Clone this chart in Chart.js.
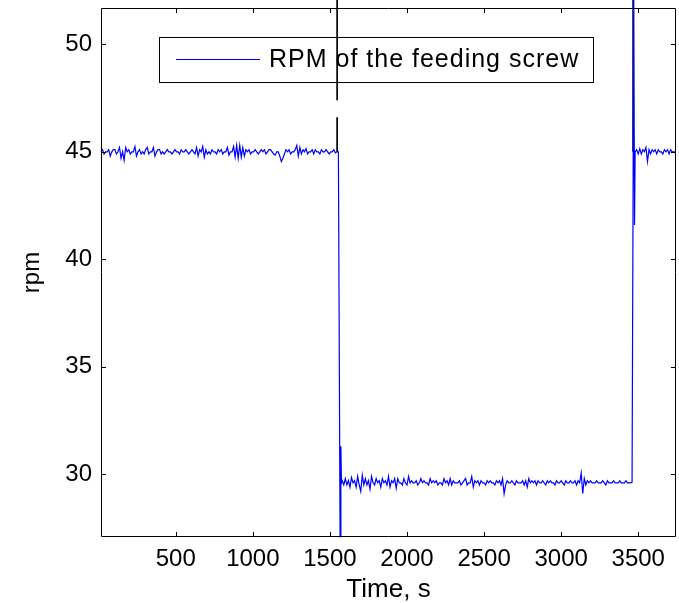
<!DOCTYPE html>
<html>
<head>
<meta charset="utf-8">
<script src="https://cdn.jsdelivr.net/npm/chart.js@4"></script>
<style>
  body { margin: 0; background: #fff; }
  canvas { display: block; }
</style>
</head>
<body>
<canvas id="rpm-chart" width="679" height="603"></canvas>
<script>
// ----------------------
// Data
// ----------------------
const xTicks = [500, 1000, 1500, 2000, 2500, 3000, 3500];
const yTicks = [30, 35, 40, 45, 50];
const sampleStep = 10; // seconds between samples of the logged signal

// first steady part, ~45 rpm (t = 15 .. 1545 s)
const seg1Start = 15;
const seg1Rpm = [
    45.00, 45.10, 44.90, 45.00, 45.00, 45.10, 44.80, 45.00, 45.10, 45.10, 44.90, 45.00, 45.20, 44.70, 45.00,
    44.60, 45.20, 45.00, 45.10, 44.90, 45.00, 45.00, 45.25, 44.80, 45.00, 45.10, 44.90, 45.00, 44.90, 45.10,
    45.20, 44.90, 45.00, 45.00, 45.20, 44.80, 45.00, 45.10, 45.10, 44.90, 45.00, 44.90, 45.00, 45.10, 45.00,
    45.00, 44.90, 45.00, 45.10, 45.00, 45.00, 44.90, 45.10, 45.00, 45.00, 45.10, 45.00, 44.90, 45.00, 45.10,
    45.00, 44.90, 45.20, 44.80, 45.10, 45.00, 45.25, 44.75, 45.10, 44.90, 45.00, 44.90, 45.10, 45.00, 45.00,
    44.90, 45.10, 45.00, 45.10, 44.90, 45.00, 45.00, 45.20, 44.85, 45.00, 45.00, 45.25, 44.75, 45.30, 44.70,
    45.30, 44.75, 45.20, 44.80, 45.10, 45.00, 45.10, 44.90, 45.00, 45.00, 45.10, 45.00, 44.90, 45.00, 45.10,
    45.00, 45.10, 44.90, 45.00, 45.10, 45.10, 45.00, 44.90, 44.85, 45.00, 45.00, 44.80, 44.55, 44.70, 44.90,
    45.10, 45.00, 45.10, 44.90, 45.00, 45.00, 45.10, 45.30, 44.80, 45.20, 44.90, 45.10, 45.00, 45.15, 44.90,
    45.00, 45.00, 45.10, 44.90, 45.10, 45.00, 45.00, 44.90, 45.10, 45.00, 45.00, 45.10, 45.00, 44.90, 45.00,
    45.00, 45.10, 44.95, 45.00
];

// drop to ~29.6 rpm
const drop1Time = [1555, 1566, 1571, 1575];
const drop1Rpm = [45.0, 27.1, 31.3, 29.6];

// second steady part, ~29.6 rpm (t = 1580 .. 3460 s)
const seg2Start = 1580;
const seg2Rpm = [
    29.70, 29.50, 29.80, 29.50, 29.70, 29.40, 29.85, 29.60, 29.70, 29.40, 29.90, 29.50, 29.20, 29.95, 29.50,
    29.80, 29.50, 29.70, 29.30, 29.90, 29.60, 29.50, 29.80, 29.60, 29.70, 29.40, 29.80, 29.60, 29.70, 29.50,
    29.90, 29.40, 29.70, 29.60, 29.80, 29.35, 29.80, 29.60, 29.60, 29.50, 29.80, 29.60, 29.50, 29.90, 29.60,
    29.70, 29.60, 29.60, 29.70, 29.50, 29.60, 29.80, 29.60, 29.70, 29.60, 29.60, 29.50, 29.80, 29.60, 29.70,
    29.60, 29.70, 29.50, 29.60, 29.60, 29.50, 29.80, 29.60, 29.70, 29.50, 29.80, 29.50, 29.70, 29.60, 29.60,
    29.60, 29.70, 29.50, 29.60, 29.70, 29.80, 29.50, 29.60, 29.60, 29.90, 29.40, 29.70, 29.60, 29.70, 29.50,
    29.70, 29.60, 29.60, 29.50, 29.70, 29.60, 29.70, 29.60, 29.60, 29.50, 29.70, 29.60, 29.70, 29.50, 29.80,
    29.10, 29.50, 29.70, 29.60, 29.60, 29.70, 29.60, 29.50, 29.70, 29.60, 29.60, 29.60, 29.70, 29.50, 29.70,
    29.40, 29.80, 29.60, 29.70, 29.60, 29.70, 29.50, 29.70, 29.60, 29.60, 29.70, 29.60, 29.50, 29.70, 29.60,
    29.70, 29.60, 29.60, 29.50, 29.70, 29.60, 29.60, 29.70, 29.60, 29.50, 29.70, 29.60, 29.60, 29.70, 29.60,
    29.60, 29.70, 29.50, 29.70, 29.60, 30.05, 29.10, 29.80, 29.50, 29.70, 29.60, 29.70, 29.60, 29.60, 29.60,
    29.70, 29.60, 29.60, 29.60, 29.70, 29.60, 29.50, 29.70, 29.60, 29.60, 29.60, 29.70, 29.60, 29.60, 29.60,
    29.70, 29.60, 29.60, 29.60, 29.70, 29.60, 29.60, 29.60, 29.62
];

// jump back up with overshoot
const jump2Time = [3466, 3471, 3476, 3480];
const jump2Rpm = [29.62, 52.2, 41.6, 45.0];

// third steady part, ~45 rpm (t = 3490 .. 3740 s)
const seg3Start = 3490;
const seg3Rpm = [
    45.10, 44.90, 45.15, 44.90, 45.10, 45.00, 45.20, 44.55, 45.10, 44.90, 45.10, 45.00, 45.10,
    44.90, 45.10, 45.00, 45.00, 44.90, 45.10, 45.00, 45.10, 44.90, 45.10, 45.00, 45.00, 45.00
];

// black vertical marker lines (set-point changes), null = gap
const markerTime = [1547, 1547, 1547, 1547, 1547, 1547, 3467, 3467];
const markerRpm = [52.1, 47.4, null, 46.6, 45.0, null, 52.1, 45.0];

// ----------------------
// Build point lists
// ----------------------
function sampled(start, values) {
    return values.map((v, i) => ({ x: start + i * sampleStep, y: v }));
}
function paired(times, values) {
    return times.map((t, i) => ({ x: t, y: values[i] }));
}

const rpmPoints = [
    ...sampled(seg1Start, seg1Rpm),
    ...paired(drop1Time, drop1Rpm),
    ...sampled(seg2Start, seg2Rpm),
    ...paired(jump2Time, jump2Rpm),
    ...sampled(seg3Start, seg3Rpm)
];
const markerPoints = paired(markerTime, markerRpm);

const FONT = 'Liberation Sans, Arial, sans-serif';

// ----------------------
// Legend box (under the lines, like the original)
// ----------------------
const legendBox = {
    id: 'legendBox',
    beforeDatasetsDraw(chart) {
        const c = chart.ctx;
        c.save();
        c.fillStyle = '#fff';
        c.strokeStyle = '#000';
        c.lineWidth = 1;
        c.fillRect(159.5, 37.5, 434, 45);
        c.strokeRect(159.5, 37.5, 434, 45);
        c.strokeStyle = '#0000ff';
        c.beginPath();
        c.moveTo(176, 59.5); c.lineTo(260, 59.5);
        c.stroke();
        c.fillStyle = '#000';
        c.font = '25px ' + FONT;
        c.letterSpacing = '1px';
        c.textBaseline = 'middle';
        c.textAlign = 'left';
        c.fillText('RPM of the feeding screw', 269, 60);
        c.restore();
    }
};

// ----------------------
// MATLAB-style box with inward ticks
// ----------------------
const matlabFrame = {
    id: 'matlabFrame',
    afterDraw(chart) {
        const c = chart.ctx;
        const a = chart.chartArea;
        const xs = chart.scales.x, ys = chart.scales.y;
        const tl = 5;
        c.save();
        c.strokeStyle = '#000';
        c.lineWidth = 1;
        c.beginPath();
        c.rect(a.left + 0.5, a.top + 0.5, a.right - a.left - 1, a.bottom - a.top - 1);
        xTicks.forEach(v => {
            const px = Math.round(xs.getPixelForValue(v)) + 0.5;
            c.moveTo(px, a.bottom); c.lineTo(px, a.bottom - tl);
            c.moveTo(px, a.top); c.lineTo(px, a.top + tl);
        });
        yTicks.forEach(v => {
            const py = Math.round(ys.getPixelForValue(v)) + 0.5;
            c.moveTo(a.left, py); c.lineTo(a.left + tl, py);
            c.moveTo(a.right, py); c.lineTo(a.right - tl, py);
        });
        c.stroke();
        c.restore();
    }
};

// ----------------------
// Chart
// ----------------------
new Chart(document.getElementById('rpm-chart').getContext('2d'), {
    type: 'line',
    data: {
        datasets: [
            {
                label: 'RPM of the feeding screw',
                data: rpmPoints,
                borderColor: '#0000ff',
                borderWidth: 1.2,
                pointRadius: 0,
                tension: 0,
                clip: false,
                order: 1
            },
            {
                label: 'marker',
                data: markerPoints,
                borderColor: '#000',
                borderWidth: 1,
                pointRadius: 0,
                tension: 0,
                spanGaps: false,
                clip: false,
                order: 2
            }
        ]
    },
    options: {
        responsive: false,
        animation: false,
        layout: { padding: { top: 8, right: 3, left: 0, bottom: 0 } },
        plugins: { legend: { display: false }, tooltip: { enabled: false } },
        scales: {
            x: {
                type: 'linear',
                min: 15,
                max: 3745,
                afterFit: s => { s.height = 66; s.paddingLeft = 0; s.paddingRight = 0; },
                afterBuildTicks: s => { s.ticks = xTicks.map(v => ({ value: v })); },
                grid: { display: false, drawTicks: false },
                border: { display: false },
                ticks: { color: '#000', padding: 8, maxRotation: 0, callback: v => String(v), font: { family: FONT, size: 24 } },
                title: { display: true, text: 'Time, s', color: '#000', padding: { top: 0, bottom: 0 }, font: { family: FONT, size: 26, lineHeight: 1 } }
            },
            y: {
                type: 'linear',
                min: 27.08,
                max: 51.69,
                afterFit: s => { s.width = 101; s.paddingTop = 0; s.paddingBottom = 0; },
                afterBuildTicks: s => { s.ticks = yTicks.map(v => ({ value: v })); },
                grid: { display: false, drawTicks: false },
                border: { display: false },
                ticks: { color: '#000', padding: 9, callback: v => String(v), font: { family: FONT, size: 24 } },
                title: { display: true, text: 'rpm', color: '#000', padding: { top: 18, bottom: 0 }, font: { family: FONT, size: 24 } }
            }
        }
    },
    plugins: [legendBox, matlabFrame]
});
</script>
</body>
</html>
